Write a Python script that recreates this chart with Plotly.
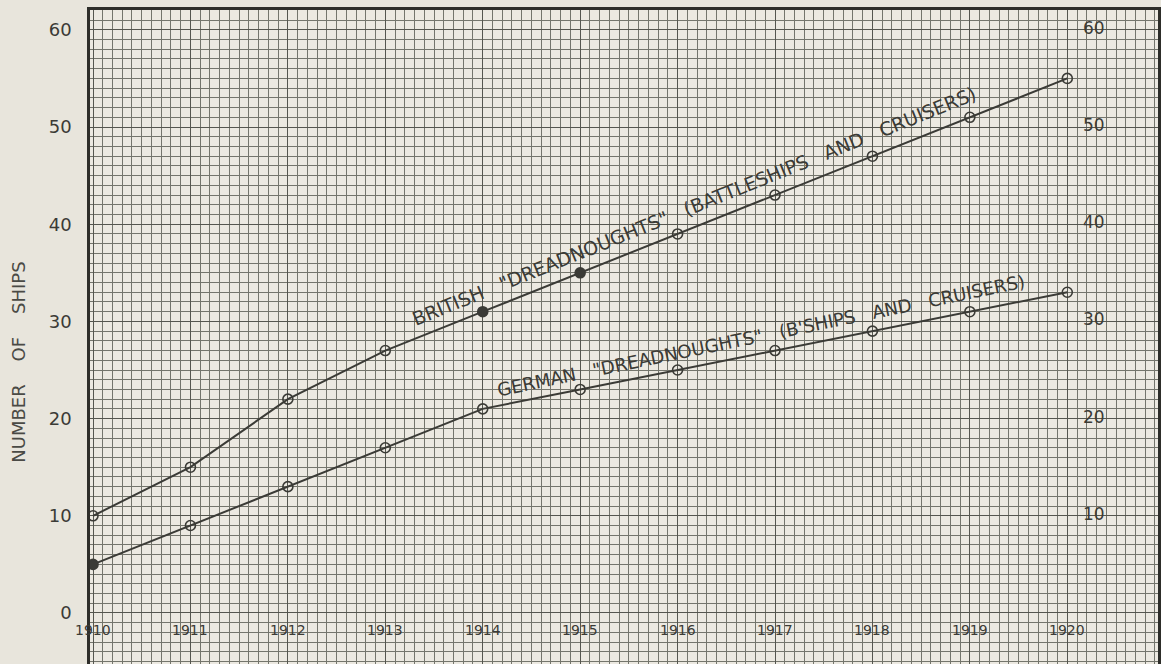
import plotly.graph_objects as go

years = [1910, 1911, 1912, 1913, 1914, 1915, 1916, 1917, 1918, 1919, 1920]
british = [10, 15, 22, 27, 31, 35, 39, 43, 47, 51, 55]
german = [5, 9, 13, 17, 21, 23, 25, 27, 29, 31, 33]
y_ticks = [0, 10, 20, 30, 40, 50, 60]
year_labels = ["1910", "1911", "1912", "1913", "1914", "1915", "1916", "1917", "1918", "1919", "1920"]
right_labels = ["10", "20", "30", "40", "50", "60"]

british_filled = {1914, 1915}
german_filled = {1910}

INK = "#3b3b36"
GRID = "#74756c"
GRID_MAJOR = "#55564f"
PAPER = "#e8e5dc"
FONT = "DejaVu Sans"

def symbols(filled):
    return ["circle" if y in filled else "circle-open" for y in years]

fig = go.Figure()
fig.add_trace(go.Scatter(
    x=years, y=british, mode="lines+markers",
    line=dict(color=INK, width=2),
    marker=dict(symbol=symbols(british_filled), size=10, color=INK,
                line=dict(color=INK, width=1.6)),
    showlegend=False, cliponaxis=False, hoverinfo="skip"))
fig.add_trace(go.Scatter(
    x=years, y=german, mode="lines+markers",
    line=dict(color=INK, width=2),
    marker=dict(symbol=symbols(german_filled), size=10, color=INK,
                line=dict(color=INK, width=1.6)),
    showlegend=False, cliponaxis=False, hoverinfo="skip"))

annotations = []
for y, lab in zip(years, year_labels):
    annotations.append(dict(x=y, y=-1.8, xref="x", yref="y", text=lab, showarrow=False,
                            font=dict(family=FONT, size=14, color=INK), xanchor="center", yanchor="middle"))
for lab in right_labels:
    v = int(lab)
    annotations.append(dict(x=1920.27, y=v + 0.2, xref="x", yref="y", text=lab, showarrow=False,
                            font=dict(family=FONT, size=17, color=INK), xanchor="center", yanchor="middle"))

annotations.append(dict(x=1916.17, y=41.9, xref="x", yref="y",
                        text='BRITISH   "DREADNOUGHTS"   (BATTLESHIPS   AND   CRUISERS)',
                        textangle=-22, showarrow=False,
                        font=dict(family=FONT, size=19, color=INK)))
annotations.append(dict(x=1916.86, y=28.5, xref="x", yref="y",
                        text='GERMAN   "DREADNOUGHTS"   (B\'SHIPS   AND   CRUISERS)',
                        textangle=-11.7, showarrow=False,
                        font=dict(family=FONT, size=18.2, color=INK)))
annotations.append(dict(x=-0.067, y=25.8, xref="paper", yref="y",
                        text="NUMBER    OF    SHIPS", textangle=-90, showarrow=False,
                        xanchor="center", yanchor="middle",
                        font=dict(family=FONT, size=18, color="#4a4a45")))

fig.update_layout(
    width=1161, height=664,
    margin=dict(l=90, r=0, t=10, b=0),
    paper_bgcolor=PAPER, plot_bgcolor="#ece9e1",
    annotations=annotations,
    showlegend=False,
)
fig.update_xaxes(
    range=[1909.969, 1920.931], tick0=1910, dtick=1, showticklabels=False, ticks="",
    showgrid=True, gridcolor=GRID_MAJOR, gridwidth=1.4, zeroline=False,
    minor=dict(dtick=0.1, tick0=1910, showgrid=True, gridcolor=GRID, gridwidth=0.8),
    showline=True, linecolor="#2e2e2a", linewidth=2.5, mirror=True,
)
fig.update_yaxes(
    range=[-5.25, 62.04], tickvals=y_ticks, ticks="",
    tickfont=dict(family=FONT, size=18, color=INK), ticklabelstandoff=12,
    showgrid=True, gridcolor=GRID_MAJOR, gridwidth=1.4, zeroline=False,
    minor=dict(dtick=1, tick0=0, showgrid=True, gridcolor=GRID, gridwidth=0.8),
    showline=True, linecolor="#2e2e2a", linewidth=2.5, mirror=True,
)

fig.write_html("out.html", config={"displayModeBar": False},
               post_script="document.body.style.margin='0';document.body.style.background='#e8e5dc';")
